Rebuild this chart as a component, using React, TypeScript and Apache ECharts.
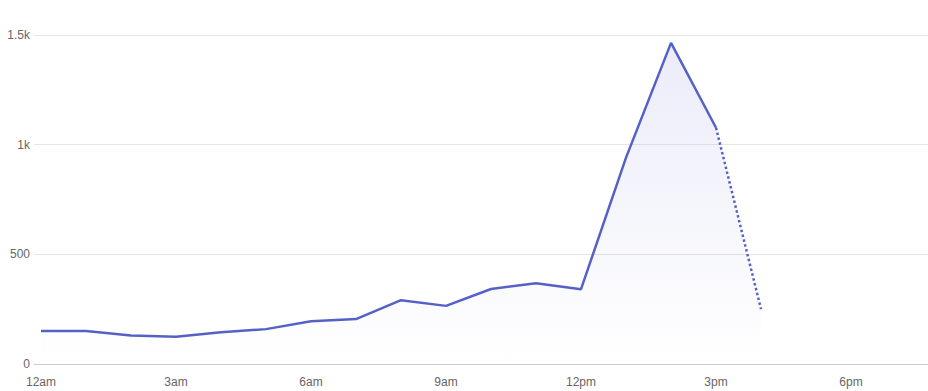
import React, { useEffect, useRef } from "react";
import * as echarts from "echarts";

const hours = [0, 1, 2, 3, 4, 5, 6, 7, 8, 9, 10, 11, 12, 13, 14, 15, 16];
const values = [150, 150, 130, 124, 145, 159, 195, 205, 291, 265, 342, 368, 341, 941, 1464, 1077, 250];
const solidUntil = 15;
const xTicks = [0, 3, 6, 9, 12, 15, 18];
const xTickLabels = ["12am", "3am", "6am", "9am", "12pm", "3pm", "6pm"];
const yTicks = [0, 500, 1000, 1500];
const yTickLabels = ["0", "500", "1k", "1.5k"];

const LINE = "#5661c8";

export default function App() {
  const ref = useRef<HTMLDivElement>(null);
  useEffect(() => {
    if (!ref.current) return;
    const chart = echarts.init(ref.current, undefined, { renderer: "svg" });
    const all = hours.map((h, i) => [h, values[i]]);
    const solid = hours.map((h, i) => (i <= solidUntil ? [h, values[i]] : [h, "-"]));
    const dotted = hours.map((h, i) => (i >= solidUntil ? [h, values[i]] : [h, "-"]));
    chart.setOption({
      animation: false,
      textStyle: { fontFamily: "Liberation Sans, Arial, sans-serif" },
      grid: { left: 34, right: 0, top: 35, bottom: 27, containLabel: false },
      xAxis: {
        type: "value",
        min: -0.155,
        max: 19.71,
        axisLine: { show: true, lineStyle: { color: "#cccccc", width: 1 } },
        axisTick: { show: false },
        splitLine: { show: false },
        axisLabel: {
          customValues: xTicks,
          color: "#666666",
          fontSize: 12,
          margin: 12,
          formatter: (v: number) => {
            const i = xTicks.indexOf(Math.round(v));
            return i >= 0 ? xTickLabels[i] : "";
          },
        },
      },
      yAxis: {
        type: "value",
        min: 0,
        max: 1500,
        interval: 500,
        axisLine: { show: false },
        axisTick: { show: false },
        splitLine: { show: true, lineStyle: { color: "#e6e6e6", width: 1 } },
        axisLabel: {
          color: "#666666",
          fontSize: 12,
          margin: 4,
          formatter: (v: number) => {
            const i = yTicks.indexOf(v);
            return i >= 0 ? yTickLabels[i] : "";
          },
        },
      },
      series: [
        {
          type: "line",
          data: all,
          showSymbol: false,
          lineStyle: { width: 0, opacity: 0 },
          areaStyle: {
            color: new echarts.graphic.LinearGradient(0, 0, 0, 1, [
              { offset: 0, color: "rgba(86,97,200,0.17)" },
              { offset: 1, color: "rgba(86,97,200,0)" },
            ]),
          },
          silent: true,
          z: 1,
        },
        {
          type: "line",
          data: solid,
          showSymbol: false,
          connectNulls: false,
          lineStyle: { color: LINE, width: 2.5 },
          z: 3,
        },
        {
          type: "line",
          data: dotted,
          showSymbol: false,
          connectNulls: false,
          lineStyle: { color: LINE, width: 2.5, type: [2.5, 2.5], cap: "butt" },
          z: 3,
        },
      ],
    });
    return () => chart.dispose();
  }, []);
  return (
    <div
      ref={ref}
      style={{ position: "fixed", left: 0, top: 0, width: 928, height: 391, background: "#fff" }}
    />
  );
}
